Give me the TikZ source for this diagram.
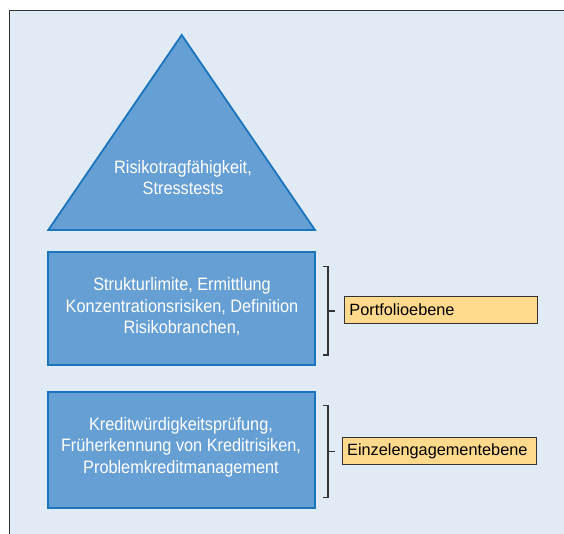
\documentclass[tikz,border=0pt]{standalone}
\usepackage{fontspec}
\setmainfont{Liberation Sans}
\newfontfamily\condfont[FakeStretch=0.905]{Liberation Sans}
\definecolor{bgblue}{HTML}{E1EBF6}
\definecolor{boxfill}{HTML}{659FD3}
\definecolor{boxline}{HTML}{1B75BC}
\definecolor{labelfill}{HTML}{FFD98C}
\definecolor{framegray}{HTML}{333333}
\tikzset{
  bluebox/.style={draw=boxline, fill=boxfill, line width=1.8pt},
  bluetext/.style={text=white, align=center, font=\condfont\fontsize{18}{21.5}\selectfont, inner sep=0pt},
  levellabel/.style={draw=framegray, fill=labelfill, line width=0.9pt, anchor=west, inner xsep=5pt, inner ysep=0pt,
     minimum height=26.6pt, text width=183pt, align=left, font=\fontsize{16.3}{19}\selectfont},
  bracketline/.style={draw=framegray, line width=1.1pt}
}
\begin{document}
\begin{tikzpicture}[x=1pt,y=-1pt]
\useasboundingbox (0,0) rectangle (564,534);
% frame
\fill[bgblue] (9,10) rectangle (564,534);
\draw[framegray, line width=1.4pt] (9.7,534) -- (9.7,10.7) -- (564,10.7);
% triangle
\coordinate (apex) at (181.7,35);
\coordinate (bl) at (48.3,230);
\coordinate (br) at (315,230);
\draw[bluebox, line join=miter] (bl) -- (apex) -- (br) -- cycle;
\node[bluetext] (tri) at (183,177.5) {Risikotragfähigkeit,\\Stresstests};
% box 1
\draw[bluebox] (48.3,251.7) rectangle (315,365);
\node[bluetext] (b1) at (182,307) {Strukturlimite, Ermittlung\\Konzentrationsrisiken, Definition\\Risikobranchen,};
% box 2
\draw[bluebox] (48.3,391.7) rectangle (315,508.3);
\node[bluetext] (b2) at (181,447) {Kreditwürdigkeitsprüfung,\\Früherkennung von Kreditrisiken,\\Problemkreditmanagement};
% bracket 1
\coordinate (t1) at (322.7,266.7);
\coordinate (m1) at (328,311);
\coordinate (e1) at (322.7,355);
\draw[bracketline] (t1) -- (328,266.7) -- (328,355) -- (e1);
\coordinate (k1) at (335,311);
\draw[bracketline] (m1) -- (k1);
\node[levellabel] (p1) at (344,310) {Portfolioebene};
% bracket 2
\coordinate (t2) at (322.7,405.7);
\coordinate (m2) at (328,451.7);
\coordinate (e2) at (322.7,497.3);
\draw[bracketline] (t2) -- (328,405.7) -- (328,497.3) -- (e2);
\coordinate (k2) at (335,451.7);
\draw[bracketline] (m2) -- (k2);
\node[levellabel, text width=184pt] (p2) at (341.7,451) {Einzelengagementebene};
\end{tikzpicture}
\end{document}
